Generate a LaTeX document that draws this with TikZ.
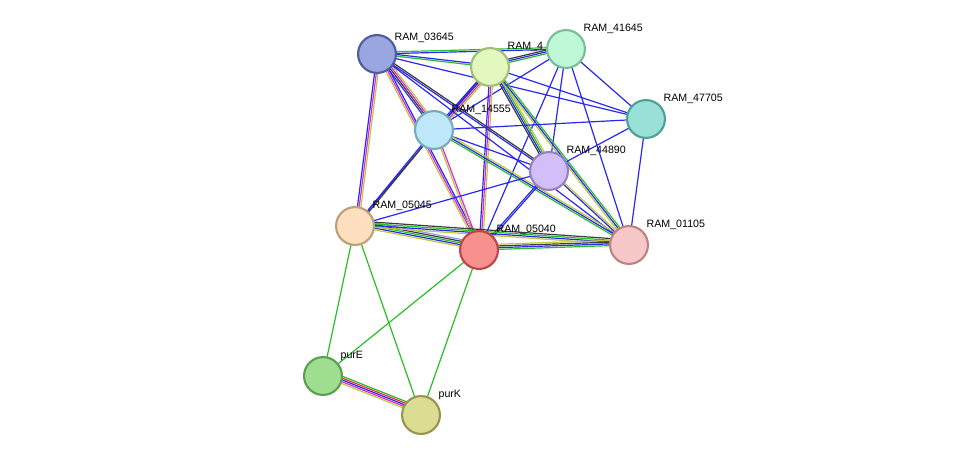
\documentclass[tikz,border=0pt]{standalone}
\usepackage{fontspec}
\setmainfont{Liberation Sans}
\usetikzlibrary{calc}

\definecolor{eblue}{RGB}{40,40,240}
\definecolor{egreen}{RGB}{40,190,40}
\definecolor{emag}{RGB}{220,40,220}
\definecolor{eyel}{RGB}{190,200,60}
\definecolor{egray}{RGB}{60,60,60}
\definecolor{ecyan}{RGB}{150,150,230}
\definecolor{ered}{RGB}{230,50,50}

\pgfdeclarelayer{edges}
\pgfdeclarelayer{labels}
\pgfsetlayers{edges,labels,main}

% edge bundle: parallel strokes, one per colour
\newcommand{\edgeb}[3]{%
  \foreach \c [count=\i] in {#3} {
    \pgfmathsetmacro{\o}{(\i-1)*1.3}
    \draw[\c, line width=0.9pt]
      ($(#1.center)!\o pt!90:(#2.center)$) -- ($(#2.center)!\o pt!-90:(#1.center)$);
  }}

\begin{document}
\begin{tikzpicture}[
    x=0.0264cm, y=-0.0264cm,
    font=\footnotesize,
    prot/.style = {circle, line width=1.6pt, minimum size=1cm, inner sep=0pt},
    lbl/.style  = {anchor=south west, inner sep=1pt},
]
\useasboundingbox (0,0) rectangle (975,461);

%============ PROTEINS ============
\node[prot, fill={rgb,255:red,154;green,166;blue,224}, draw={rgb,255:red,80;green,92;blue,160}] (n03645) at (377,54) {};
\node[prot, fill={rgb,255:red,226;green,248;blue,190}, draw={rgb,255:red,160;green,190;blue,120}] (n4) at (490,67) {};
\node[prot, fill={rgb,255:red,190;green,248;blue,214}, draw={rgb,255:red,120;green,190;blue,150}] (n41645) at (566,49) {};
\node[prot, fill={rgb,255:red,152;green,224;blue,216}, draw={rgb,255:red,80;green,160;blue,150}] (n47705) at (646,119) {};
\node[prot, fill={rgb,255:red,190;green,232;blue,250}, draw={rgb,255:red,120;green,170;blue,190}] (n14555) at (434,130) {};
\node[prot, fill={rgb,255:red,210;green,190;blue,248}, draw={rgb,255:red,150;green,130;blue,190}] (n44890) at (549,171) {};
\node[prot, fill={rgb,255:red,254;green,224;blue,192}, draw={rgb,255:red,190;green,160;blue,120}] (n05045) at (355,226) {};
\node[prot, fill={rgb,255:red,248;green,144;blue,144}, draw={rgb,255:red,190;green,70;blue,70}] (n05040) at (479,250) {};
\node[prot, fill={rgb,255:red,246;green,200;blue,200}, draw={rgb,255:red,190;green,130;blue,130}] (n01105) at (629,245) {};
\node[prot, fill={rgb,255:red,158;green,222;blue,142}, draw={rgb,255:red,90;green,160;blue,80}] (npurE) at (323,376) {};
\node[prot, fill={rgb,255:red,220;green,220;blue,146}, draw={rgb,255:red,150;green,150;blue,80}] (npurK) at (421,415) {};

%============ LABELS ============
\begin{pgfonlayer}{labels}
\node[lbl] (l03645) at ($(n03645.center)+(16,-10)$) {RAM\_03645};
\node[lbl] (l4)     at ($(n4.center)+(16,-14)$)     {RAM\_4};
\node[lbl] (l41645) at ($(n41645.center)+(16,-14)$) {RAM\_41645};
\node[lbl] (l47705) at ($(n47705.center)+(16,-14)$) {RAM\_47705};
\node[lbl] (l14555) at ($(n14555.center)+(16,-14)$) {RAM\_14555};
\node[lbl] (l44890) at ($(n44890.center)+(16,-14)$) {RAM\_44890};
\node[lbl] (l05045) at ($(n05045.center)+(16,-14)$) {RAM\_05045};
\node[lbl] (l05040) at ($(n05040.center)+(16,-14)$) {RAM\_05040};
\node[lbl] (l01105) at ($(n01105.center)+(16,-14)$) {RAM\_01105};
\node[lbl] (lpurE)  at ($(npurE.center)+(16,-14)$)  {purE};
\node[lbl] (lpurK)  at ($(npurK.center)+(16,-14)$)  {purK};
\end{pgfonlayer}

%============ EDGES ============
\begin{pgfonlayer}{edges}
\edgeb{n03645}{n41645}{eblue,egreen}
\edgeb{n03645}{n47705}{eblue}
\edgeb{n03645}{n4}{egreen,eblue}
\edgeb{n4}{n41645}{egreen,eblue,egray}
\edgeb{n4}{n47705}{eblue}
\edgeb{n41645}{n47705}{eblue}
\edgeb{n41645}{n14555}{eblue}
\edgeb{n41645}{n44890}{eblue}
\edgeb{n41645}{n01105}{eblue}
\edgeb{n41645}{n05040}{eblue}
\edgeb{n4}{n14555}{eblue,egray,emag,eyel}
\edgeb{n4}{n05045}{eblue}
\edgeb{n4}{n05040}{eblue,emag,eyel}
\edgeb{n4}{n44890}{egray,eblue,egreen,eyel}
\edgeb{n4}{n01105}{eyel,eblue,egreen}
\edgeb{n03645}{n14555}{eblue,egray,emag,eyel}
\edgeb{n03645}{n05045}{eblue,emag,eyel}
\edgeb{n03645}{n05040}{eyel,emag,eblue}
\edgeb{n03645}{n44890}{eblue,egray}
\edgeb{n03645}{n01105}{eblue}
\edgeb{n14555}{n47705}{eblue}
\edgeb{n14555}{n05045}{eblue,egray}
\edgeb{n14555}{n05040}{eyel,emag}
\edgeb{n14555}{n44890}{eblue}
\edgeb{n14555}{n01105}{egreen,eblue,eyel}
\edgeb{n47705}{n44890}{eblue}
\edgeb{n47705}{n01105}{eblue}
\edgeb{n44890}{n05045}{eblue}
\edgeb{n44890}{n05040}{eblue,eblue}
\edgeb{n44890}{n01105}{eblue,eyel}
\edgeb{n05045}{n05040}{eyel,eblue,egreen,egray,ecyan}
\edgeb{n05045}{n01105}{eyel,eblue,egreen,egray}
\edgeb{n05040}{n01105}{egreen,eblue,egray,eyel}
\edgeb{n05045}{npurE}{egreen}
\edgeb{n05045}{npurK}{egreen}
\edgeb{n05040}{npurE}{egreen}
\edgeb{n05040}{npurK}{egreen}
\edgeb{npurE}{npurK}{eyel,emag,eblue,ered,egreen}
\end{pgfonlayer}

\end{tikzpicture}
\end{document}
